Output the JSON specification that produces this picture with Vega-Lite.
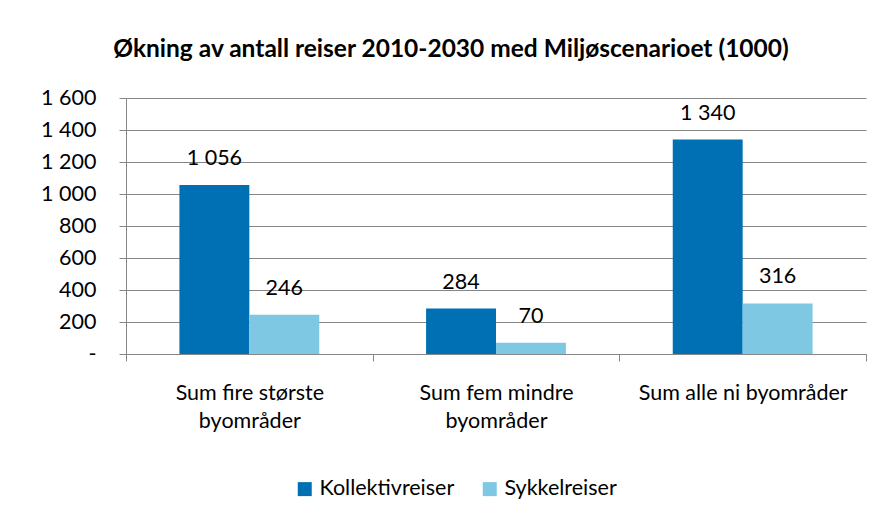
{
  "$schema": "https://vega.github.io/schema/vega-lite/v6.json",
  "width": 740,
  "height": 256,
  "padding": {"left": 40, "top": 36, "right": 18, "bottom": 10},
  "background": "white",
  "config": {
    "font": "Lato",
    "locale": {"number": {"decimal": ",", "thousands": " ", "grouping": [3], "currency": ["", " kr"]}},
    "view": {"stroke": null}
  },
  "title": {
    "text": "Økning av antall reiser 2010-2030 med Miljøscenarioet (1000)",
    "fontSize": 24.5,
    "fontWeight": "bold",
    "color": "#000000",
    "font": "Lato",
    "anchor": "middle",
    "offset": 25,
    "dx": -45
  },
  "data": {
    "values": [
      {"kategori": "Sum fire største byområder", "serie": "Kollektivreiser", "verdi": 1056},
      {"kategori": "Sum fire største byområder", "serie": "Sykkelreiser", "verdi": 246},
      {"kategori": "Sum fem mindre byområder", "serie": "Kollektivreiser", "verdi": 284},
      {"kategori": "Sum fem mindre byområder", "serie": "Sykkelreiser", "verdi": 70},
      {"kategori": "Sum alle ni byområder", "serie": "Kollektivreiser", "verdi": 1340},
      {"kategori": "Sum alle ni byområder", "serie": "Sykkelreiser", "verdi": 316}
    ]
  },
  "encoding": {
    "x": {
      "field": "kategori",
      "type": "nominal",
      "sort": null,
      "title": null,
      "scale": {"paddingInner": 0, "paddingOuter": 0},
      "axis": {
        "labelAngle": 0,
        "labelFontSize": 21.5,
        "labelColor": "#000000",
        "labelPadding": 21,
        "labelLineHeight": 28,
        "labelBaseline": "top",
        "labelLimit": 0,
        "tickBand": "extent",
        "tickSize": 7,
        "tickColor": "#868686",
        "domainColor": "#868686",
        "labelExpr": "datum.label == 'Sum fire største byområder' ? ['Sum fire største', 'byområder'] : datum.label == 'Sum fem mindre byområder' ? ['Sum fem mindre', 'byområder'] : datum.label"
      }
    },
    "xOffset": {
      "field": "serie",
      "type": "nominal",
      "scale": {"paddingInner": 0, "paddingOuter": 0.764}
    },
    "y": {
      "field": "verdi",
      "type": "quantitative",
      "title": null,
      "scale": {"domain": [0, 1600], "nice": false},
      "axis": {
        "values": [0, 200, 400, 600, 800, 1000, 1200, 1400, 1600],
        "format": ",d",
        "labelExpr": "datum.value == 0 ? '-' : datum.label",
        "labelFontSize": 21.5,
        "labelColor": "#000000",
        "labelPadding": 23,
        "tickSize": 7,
        "tickColor": "#868686",
        "domainColor": "#868686",
        "gridColor": "#868686",
        "gridOpacity": 1,
        "grid": true
      }
    }
  },
  "layer": [
    {
      "mark": {"type": "bar"},
      "encoding": {
        "color": {
          "field": "serie",
          "type": "nominal",
          "scale": {"domain": ["Kollektivreiser", "Sykkelreiser"], "range": ["#0070B5", "#7EC8E4"]},
          "legend": {
            "title": null,
            "orient": "none",
            "legendX": 168,
            "legendY": 380,
            "direction": "horizontal",
            "symbolType": "square",
            "symbolSize": 196,
            "symbolStrokeWidth": 0,
            "symbolOpacity": 1,
            "labelFontSize": 21.5,
            "labelColor": "#000000",
            "columnPadding": 24,
            "labelOffset": 4
          }
        }
      }
    },
    {
      "mark": {"type": "text", "fontSize": 21.5, "color": "#000000", "baseline": "alphabetic", "dy": -20},
      "encoding": {
        "text": {"field": "verdi", "type": "quantitative", "format": ",d"}
      }
    }
  ]
}
